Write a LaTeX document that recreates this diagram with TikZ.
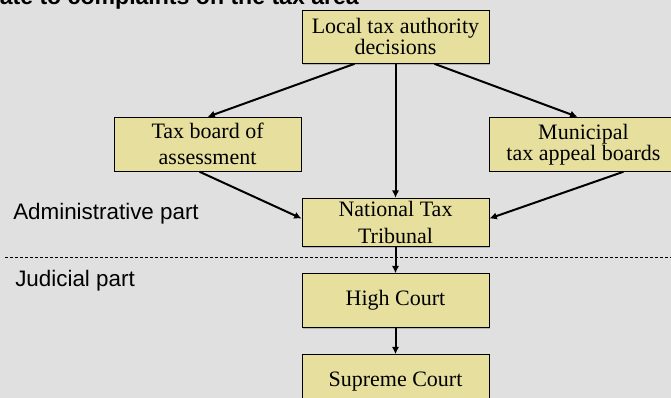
\documentclass[tikz,border=0pt]{standalone}
\usepackage{fontspec}
\setmainfont{Liberation Serif}
\setsansfont{Liberation Sans}
\usetikzlibrary{arrows.meta}
\usetikzlibrary{shadows}
\usetikzlibrary{calc}

\definecolor{slidegray}{RGB}{224,224,224}
\definecolor{boxkhaki}{RGB}{230,223,158}

\begin{document}
\begin{tikzpicture}[
      x=0.75pt,y=-0.75pt,
      body/.style={rectangle,draw,line width=0.7pt,fill=boxkhaki,
        drop shadow={shadow xshift=0.9pt,shadow yshift=-0.9pt,fill=black!40,opacity=0.6},
        minimum width=140.25pt,minimum height=40.5pt,align=center,
        font=\fontsize{16.5}{15.75}\selectfont},
      appeal/.style={-{Latex[length=5.5pt,width=5.5pt]},line width=1.5pt},
      part/.style={font=\sffamily\fontsize{16.8}{18}\selectfont,anchor=base west,inner sep=0pt},
      split/.style={line width=0.75pt,dash pattern=on 2.25pt off 1.5pt},
    ]
    \fill[slidegray] (0,0) rectangle (671,398);
    \useasboundingbox (0,0) rectangle (671,398);
    \node[font=\sffamily\bfseries\fontsize{17.3}{18}\selectfont,anchor=base east,inner sep=0pt] (title) at (359,5) {ate to complaints on the tax area};
    \matrix[row sep=19.5pt,column sep=0pt,inner sep=0pt,matrix anchor=nat.center] at (395.5,222.5) {
      & \node[body,minimum height=39.75pt] (local) {Local tax authority\\decisions}; & \\[20.25pt]
      \node[body,font=\fontsize{16.5}{19.5}\selectfont] (board) {Tax board of\\assessment}; & & \node[body] (muni) {Municipal\\tax appeal boards}; \\
      & \node[body,minimum height=36.4pt,font=\fontsize{16.5}{20.6}\selectfont] (nat) {National Tax\\Tribunal}; & \\
      & \node[body] (high) {High Court}; & \\
      & \node[body] (supreme) {Supreme Court}; & \\
    };
    \node[part] (admin) at (13,220) {Administrative part};
    \node[part] (judicial) at (15,287) {Judicial part};
    \coordinate (split left) at (5,257.7);
    \coordinate (split right) at (671,257.7);
    \draw[split] (split left) -- (split right);
    \draw[appeal] ($(local.south)+(-41,0)$) -- (board.north);
    \draw[appeal] (local.south) -- (nat.north);
    \draw[appeal] ($(local.south)+(39,0)$) -- ($(muni.north)+(-6,0)$);
    \draw[appeal] ($(board.south)+(-8,0)$) -- ($(nat.west)+(0,-4)$);
    \draw[appeal] ($(muni.south)+(40,0)$) -- ($(nat.east)+(0,-4)$);
    \draw[appeal] (nat.south) -- (high.north);
    \draw[appeal] (high.south) -- (supreme.north);
  \end{tikzpicture}
\end{document}
